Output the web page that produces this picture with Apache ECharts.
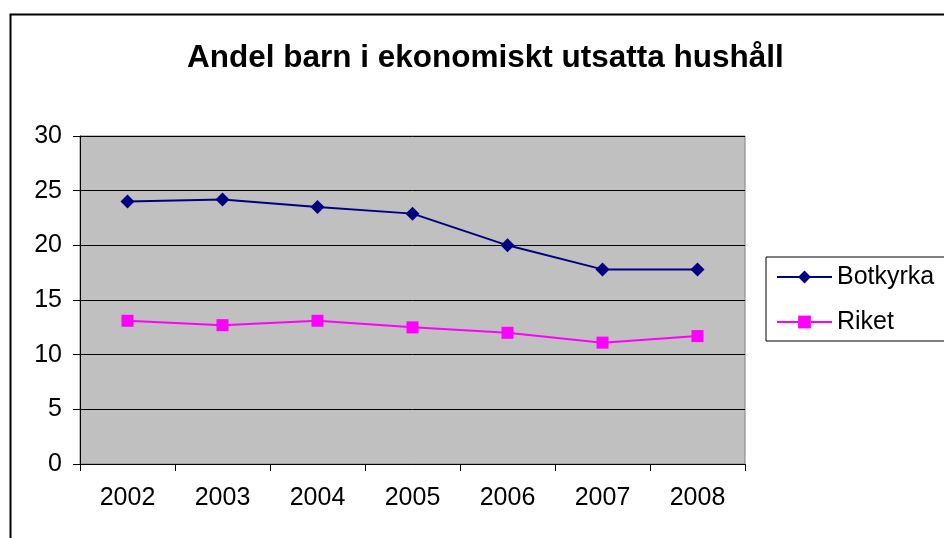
<!DOCTYPE html>
<html>
<head>
<meta charset="utf-8">
<script src="https://cdn.jsdelivr.net/npm/echarts@6/dist/echarts.min.js"></script>
<style>
  html, body { margin: 0; padding: 0; background: #fff; }
  #chart { width: 944px; height: 538px; }
</style>
</head>
<body>
<div id="chart"></div>
<script>
  // data
  const years = ['2002', '2003', '2004', '2005', '2006', '2007', '2008']
  const botkyrka = [24.0, 24.2, 23.5, 22.9, 20.0, 17.8, 17.8]
  const riket = [13.1, 12.7, 13.1, 12.5, 12.0, 11.1, 11.7]
  const yTicks = [0, 5, 10, 15, 20, 25, 30]

  const font = '"Liberation Sans", Arial, sans-serif'

  const chart = echarts.init(document.getElementById('chart'))

  chart.setOption({
    animation: false,
    title: {
      text: 'Andel barn i ekonomiskt utsatta hushåll',
      left: 182,
      top: 37,
      textStyle: {
        fontFamily: font,
        fontSize: 31.5,
        fontWeight: 'bold',
        color: '#000'
      }
    },
    graphic: [
      {
        // outer chart frame, runs off the page right and bottom
        type: 'rect',
        left: 8,
        top: 12,
        shape: { width: 1200, height: 800 },
        style: { fill: 'none', stroke: '#000', lineWidth: 2 },
        silent: true
      }
    ],
    legend: {
      orient: 'vertical',
      left: 766,
      top: 257,
      padding: [7, 40, 6, 10],
      itemWidth: 55,
      itemHeight: 16,
      itemGap: 19,
      borderColor: '#000',
      borderWidth: 1,
      textStyle: {
        fontFamily: font,
        fontSize: 25,
        lineHeight: 26,
        color: '#000'
      },
      data: ['Botkyrka', 'Riket']
    },
    grid: {
      left: 80,
      right: 199,
      top: 136,
      bottom: 74,
      show: true,
      backgroundColor: '#C0C0C0',
      borderColor: '#808080',
      borderWidth: 1
    },
    xAxis: {
      type: 'category',
      data: years,
      boundaryGap: true,
      axisLine: { lineStyle: { color: '#000', width: 1 } },
      axisTick: { show: true, length: 7, lineStyle: { color: '#000' } },
      axisLabel: {
        margin: 22,
        fontFamily: font,
        fontSize: 25,
        color: '#000'
      },
      splitLine: { show: false }
    },
    yAxis: {
      type: 'value',
      min: yTicks[0],
      max: yTicks[yTicks.length - 1],
      interval: 5,
      axisLine: { show: true, lineStyle: { color: '#000', width: 1 } },
      axisTick: { show: true, length: 7, lineStyle: { color: '#000' } },
      axisLabel: {
        margin: 18,
        fontFamily: font,
        fontSize: 25,
        color: '#000'
      },
      splitLine: { show: true, lineStyle: { color: '#000', width: 1 } }
    },
    series: [
      {
        name: 'Botkyrka',
        type: 'line',
        data: botkyrka,
        symbol: 'diamond',
        symbolSize: 14,
        color: '#000080',
        lineStyle: { color: '#000080', width: 2 },
        itemStyle: { color: '#000080' }
      },
      {
        name: 'Riket',
        type: 'line',
        data: riket,
        symbol: 'rect',
        symbolSize: 12,
        color: '#FF00FF',
        lineStyle: { color: '#FF00FF', width: 2 },
        itemStyle: { color: '#FF00FF' }
      }
    ]
  })
</script>
</body>
</html>
